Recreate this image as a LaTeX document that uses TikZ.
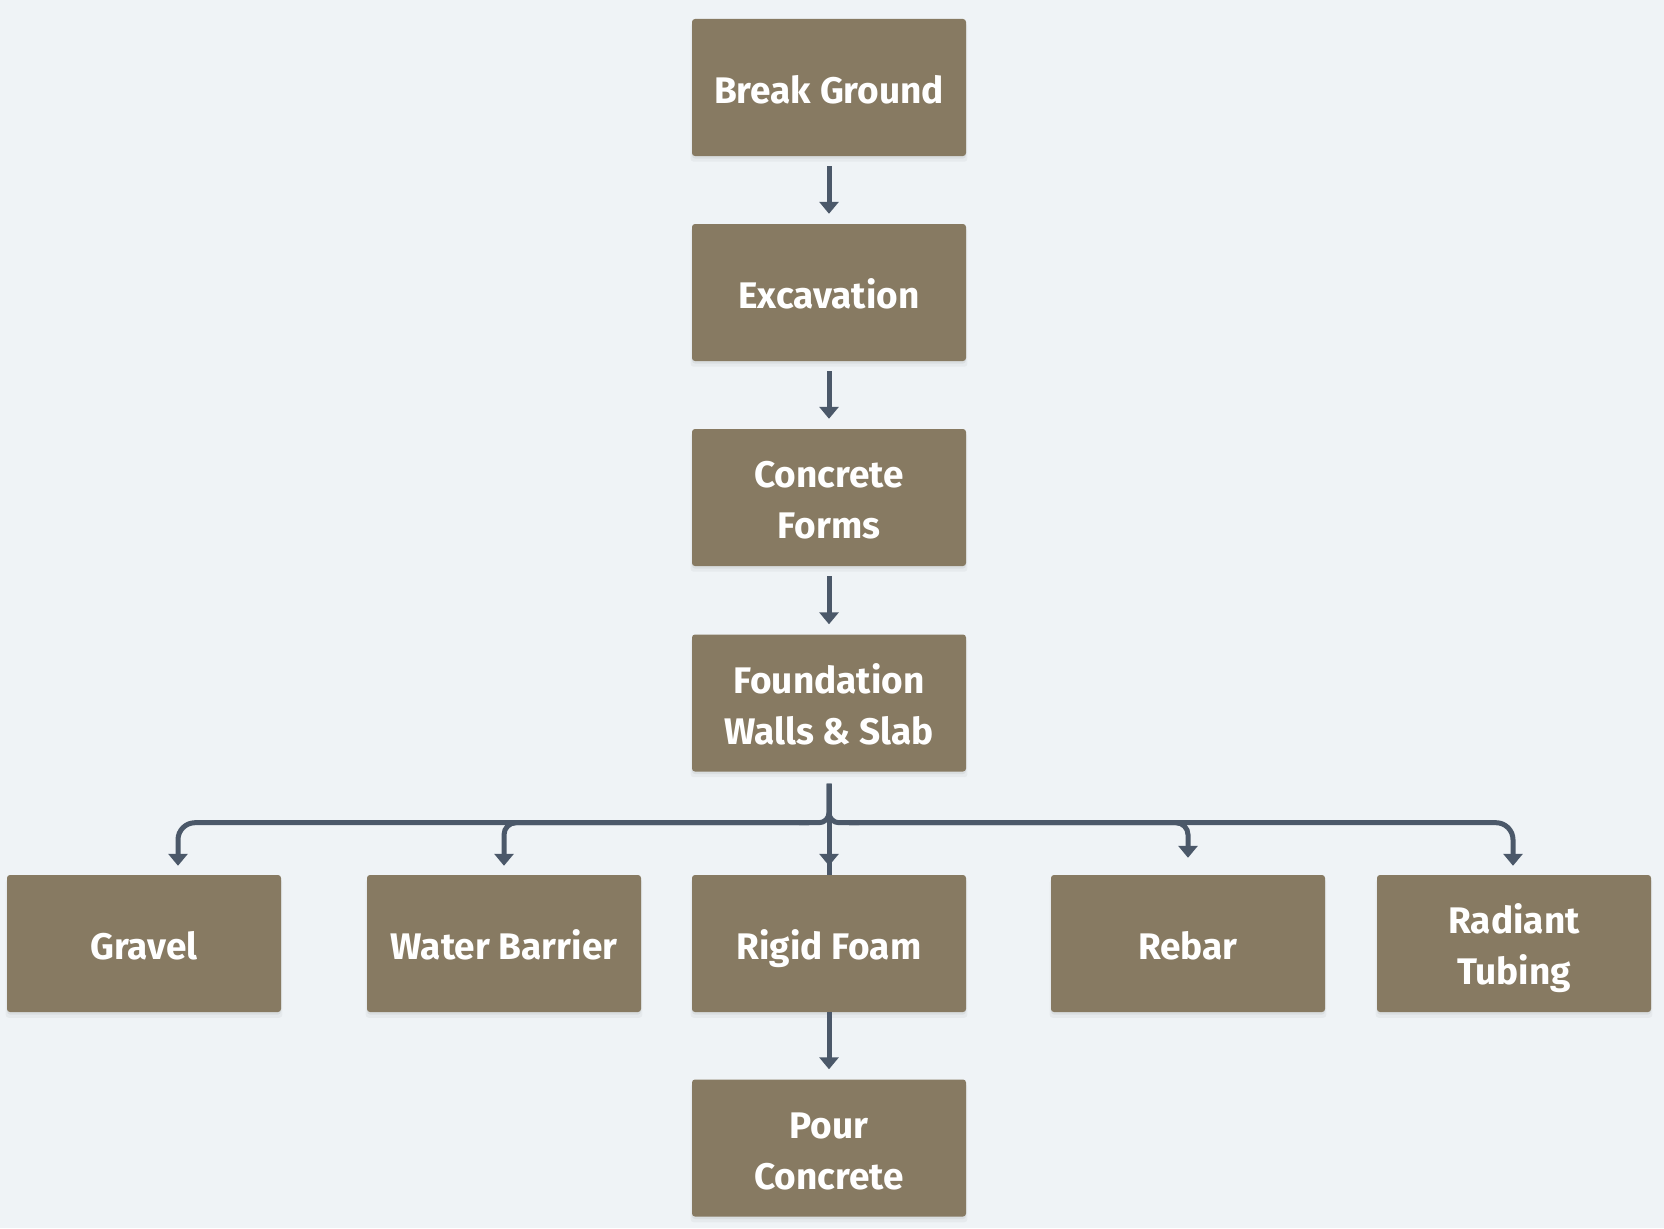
\documentclass[tikz,border=0pt]{standalone}
\usepackage{fontspec}
\setmainfont{Fira Sans}
\usetikzlibrary{arrows.meta,calc,shadows}
\definecolor{bgc}{HTML}{EFF3F6}
\definecolor{boxc}{HTML}{877A62}
\definecolor{linec}{HTML}{4B5869}
\newcommand\ls[1]{\rule[-0.11em]{0pt}{1.06em}\smash{#1}}
\tikzset{
  stepbox/.style={rectangle, rounded corners=3pt, fill=boxc, text=white,
    minimum width=274pt, minimum height=137pt, inner sep=0pt,
    font=\fontsize{37}{51}\selectfont\bfseries, align=center,
    general shadow={fill=black, opacity=0.035, shadow yshift=-5pt, shadow scale=1.01},
    general shadow={fill=black, opacity=0.05, shadow yshift=-2.5pt}},
  conn/.style={draw=linec, line width=5pt},
  arr/.style={conn, -{Triangle[width=19pt,length=12pt]}}
}
\begin{document}
\begin{tikzpicture}[x=1pt,y=-1pt]
\useasboundingbox[fill=bgc] (0,0) rectangle (1664,1228);
\node[stepbox] (bg) at (829,87.5) {\ls{Break Ground}};
\node[stepbox] (ex) at (829,292.5) {\ls{Excavation}};
\node[stepbox] (cf) at (829,497.5) {\ls{Concrete}\\\ls{Forms}};
\node[stepbox] (fw) at (829,703) {\ls{Foundation}\\\ls{Walls \& Slab}};
\node[stepbox] (gr) at (144,943.5) {\ls{Gravel}};
\node[stepbox] (wb) at (504,943.5) {\ls{Water Barrier}};
\node[stepbox] (rf) at (829,943.5) {\ls{Rigid Foam}};
\node[stepbox] (rb) at (1188,943.5) {\ls{Rebar}};
\node[stepbox] (rt) at (1514,943.5) {\ls{Radiant}\\\ls{Tubing}};
\node[stepbox] (pc) at (829,1148) {\ls{Pour}\\\ls{Concrete}};

\draw[arr] ($(bg.south)+(0,10)$) -- ($(ex.north)+(0,-10)$);
\draw[arr] ($(ex.south)+(0,10)$) -- ($(cf.north)+(0,-10)$);
\draw[arr] ($(cf.south)+(0,10)$) -- ($(fw.north)+(0,-10)$);
\draw[arr] (rf.south) -- ($(pc.north)+(0,-10)$);

\coordinate (top) at ($(fw.south)+(0,12)$);
\coordinate (split) at ($(fw.south)+(0,51)$);
% split curves
\draw[conn, rounded corners=10pt] (top) -- (split) -- ($(split)+(-30,0)$);
\draw[conn, rounded corners=10pt] (top) -- (split) -- ($(split)+(30,0)$);
% straight down
\draw[conn] (top) -- (rf.north);
\draw[arr] (top) -- ($(rf.north)+(0,-9)$);
% branches
\draw[arr, rounded corners=17pt] ($(split)+(-20,0)$) -- ($(split)+(-651,0)$) -- ($(gr.north)+(34,-9)$);
\draw[arr, rounded corners=12pt] ($(split)+(-20,0)$) -- ($(split)+(-325,0)$) -- ($(wb.north)+(0,-9)$);
\draw[arr, rounded corners=12pt] ($(split)+(20,0)$) -- ($(split)+(359,0)$) -- ($(rb.north)+(0,-17)$);
\draw[arr, rounded corners=17pt] ($(split)+(20,0)$) -- ($(split)+(684,0)$) -- ($(rt.north)+(-1,-9)$);
\end{tikzpicture}
\end{document}
